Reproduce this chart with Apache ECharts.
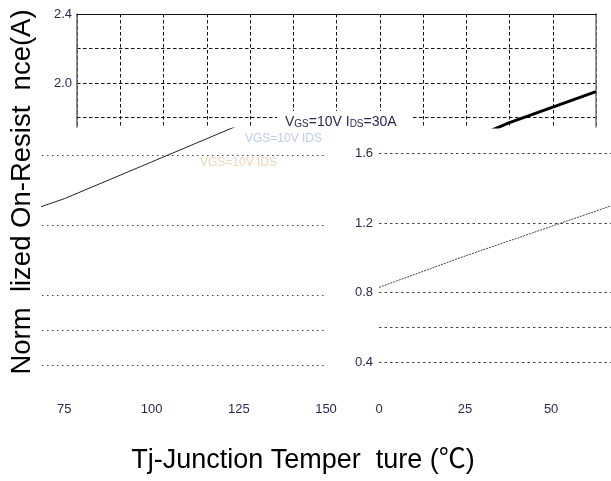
<!DOCTYPE html>
<html>
<head>
<meta charset="utf-8">
<script src="https://cdn.jsdelivr.net/npm/echarts@6/dist/echarts.min.js"></script>
<style>html,body{margin:0;padding:0;background:#fff}#c{width:611px;height:481px}</style>
</head>
<body>
<div id="c"></div>
<script>
// ---- data ----
const temps = [0, 25, 50, 75, 100, 125, 150];               // Tj (°C)
const rdsNorm = [0.83, 1.01, 1.18, 1.35, 1.56, 1.77, 1.95]; // normalized on-resistance
const topGridValues = [1.8, 2.0, 2.2, 2.4];
const topYLabels = [2.0, 2.4];
const lowGridValues = [0.4, 0.6, 0.8, 1.2, 1.6];
const lowYLabels = [0.4, 0.8, 1.2, 1.6];
const leftXLabels = [75, 100, 125, 150];
const rightXLabels = [0, 25, 50];
const yTitle = 'Norm  lized On-Resist  nce(A)';
const xTitle = 'Tj-Junction Temper  ture (\u2103)';
const condText = '{a|V}{s|GS}{a|=10V I}{s|DS}{a|=30A}';

const pts = temps.map((t, i) => [t, rdsNorm[i]]);
const FONT = 'Liberation Sans';
const LBL = '#2a2a50';

const chart = echarts.init(document.getElementById('c'), null, {renderer: 'canvas'});
chart.setOption({
  animation: false,
  backgroundColor: '#fff',
  grid: [
    {left: 77, top: 14, width: 519, height: 113},
    {left: 42, top: 128, width: 284, height: 272},
    {left: 379, top: 136, width: 232, height: 261}
  ],
  xAxis: [
    {gridIndex: 0, type: 'value', position: 'top', min: 0, max: 150, interval: 12.5,
     axisLine: {show: true, lineStyle: {color: '#111', width: 1}},
     axisTick: {show: false}, axisLabel: {show: false},
     splitLine: {show: true, lineStyle: {color: '#111', type: [3.5, 2.5], width: 1}}},
    {gridIndex: 1, type: 'value', min: 68.6, max: 150,
     axisLine: {show: false}, axisTick: {show: false}, splitLine: {show: false},
     axisLabel: {show: true, customValues: leftXLabels, margin: 3, fontSize: 13, fontFamily: FONT, color: LBL}},
    {gridIndex: 2, type: 'value', min: 0, max: 67.4,
     axisLine: {show: false}, axisTick: {show: false}, splitLine: {show: false},
     axisLabel: {show: true, customValues: rightXLabels, margin: 6, fontSize: 13, fontFamily: FONT, color: LBL}}
  ],
  yAxis: [
    {gridIndex: 0, type: 'value', min: 1.745, max: 2.4,
     axisLine: {show: true, lineStyle: {color: '#666', width: 1.5}},
     axisTick: {show: false, customValues: topGridValues},
     axisLabel: {show: true, customValues: topYLabels, margin: 5, fontSize: 13, fontFamily: FONT, color: LBL,
                 formatter: v => v.toFixed(1)},
     splitLine: {show: true, lineStyle: {color: '#111', type: [3.5, 2.5], width: 1}}},
    {gridIndex: 0, type: 'value', position: 'right', min: 1.745, max: 2.4,
     axisLine: {show: true, lineStyle: {color: '#777', width: 1.5}},
     axisTick: {show: false}, axisLabel: {show: false}, splitLine: {show: false}},
    {gridIndex: 1, type: 'value', min: 0.2, max: 1.754,
     axisLine: {show: false},
     axisTick: {show: false, customValues: lowGridValues},
     axisLabel: {show: false},
     splitLine: {show: true, lineStyle: {color: '#444', type: [1.5, 3.5], width: 1}}},
    {gridIndex: 2, type: 'value', min: 0.2, max: 1.7,
     axisLine: {show: false},
     axisTick: {show: false, customValues: lowGridValues},
     axisLabel: {show: true, customValues: lowYLabels, margin: 6, fontSize: 13, fontFamily: FONT, color: LBL,
                 formatter: v => v.toFixed(1)},
     splitLine: {show: true, lineStyle: {color: '#444', type: [2.5, 3], width: 1}}}
  ],
  title: [
    {text: condText, left: 277, top: 111, padding: [4, 16, 5, 8], backgroundColor: '#fff',
     textStyle: {fontWeight: 'normal', rich: {
       a: {fontSize: 14, fontFamily: FONT, color: '#2a2a50', fontWeight: 'normal'},
       s: {fontSize: 10, fontFamily: FONT, color: '#2a2a50', fontWeight: 'normal', verticalAlign: 'bottom'}}}},
    {text: 'VGS=10V IDS', left: 245, top: 133, padding: 0,
     textStyle: {fontSize: 12, fontFamily: FONT, color: 'rgba(110,140,200,0.45)', fontWeight: 'normal'}},
    {text: 'VGS=10V IDS', left: 200, top: 157, padding: 0,
     textStyle: {fontSize: 12, fontFamily: FONT, color: 'rgba(225,160,90,0.45)', fontWeight: 'normal'}}
  ],
  graphic: [
    {type: 'text', x: 22, y: 192, rotation: Math.PI / 2,
     style: {text: yTitle, font: '27.5px "Liberation Sans"', fill: '#000', align: 'center', verticalAlign: 'middle'}},
    {type: 'text', x: 303, y: 461,
     style: {text: xTitle, font: '27px "Liberation Sans", "Noto Sans CJK SC"', fill: '#000', align: 'center', verticalAlign: 'middle'}}
  ],
  series: [
    {type: 'line', xAxisIndex: 0, yAxisIndex: 0, data: pts, showSymbol: false, clip: true,
     lineStyle: {color: '#000', width: 3}},
    {type: 'line', xAxisIndex: 1, yAxisIndex: 2, data: pts, showSymbol: false, clip: true,
     lineStyle: {color: '#222', width: 1}},
    {type: 'line', xAxisIndex: 2, yAxisIndex: 3, data: pts, showSymbol: false, clip: true,
     lineStyle: {color: '#444', width: 1, type: [2, 1]}}
  ]
});
</script>
</body>
</html>
